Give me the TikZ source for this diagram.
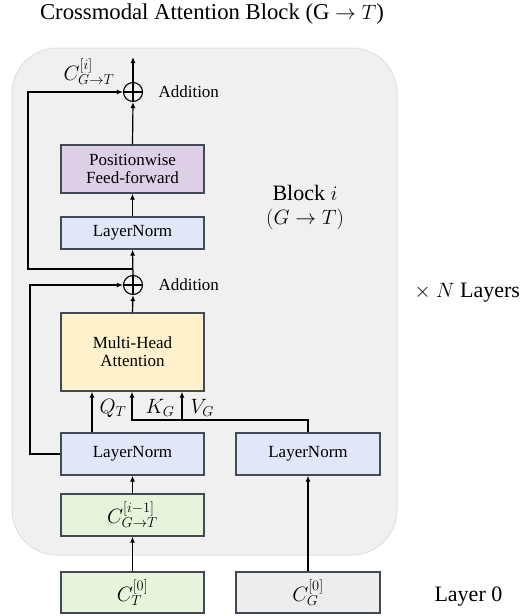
\documentclass[tikz,border=0pt]{standalone}
\usepackage{fontspec}
\setmainfont{Liberation Serif}
\usetikzlibrary{arrows.meta,calc}
\definecolor{bgfill}{HTML}{F0F0F0}
\definecolor{bgline}{HTML}{E2E2E2}
\definecolor{bord}{HTML}{434A56}
\definecolor{pffc}{HTML}{DDD0E7}
\definecolor{lnc}{HTML}{E1E6F8}
\definecolor{mhac}{HTML}{FFF1CC}
\definecolor{grc}{HTML}{E8F3DC}
\definecolor{gyc}{HTML}{EDEDED}
\tikzset{
  box/.style={draw=bord, line width=1.3pt, minimum width=143pt, align=center, inner sep=0pt,
    font=\fontsize{17}{20}\selectfont},
  addc/.style={draw=black, line width=1.1pt, circle, minimum size=19pt, inner sep=0pt},
  conn/.style={draw=black, line width=1.2pt},
  arr/.style={conn, -{Latex[length=6pt,width=5pt]}},
  side/.style={font=\fontsize{22}{26}\selectfont},
  lbl/.style={font=\fontsize{17}{20}\selectfont},
  mlbl/.style={font=\fontsize{20}{22}\selectfont},
  bigm/.style={font=\fontsize{22}{24}\selectfont},
}
\begin{document}
\begin{tikzpicture}[x=1pt,y=-1pt]
\useasboundingbox (0,0) rectangle (524,616);
\fill[bgfill, draw=bgline, line width=1pt, rounded corners=45pt] (12,48) rectangle (397,555);
\node[font=\fontsize{22.7}{26}\selectfont] (title) at (212,14) {Crossmodal Attention Block (G $\rightarrow T$)};
% boxes
\node[box, fill=pffc, minimum height=48pt] (pff) at (132.5,169) {Positionwise\\[-2pt]Feed-forward};
\node[box, fill=lnc, minimum height=32pt] (ln1) at (132.5,233) {LayerNorm};
\node[box, fill=mhac, minimum height=78pt] (mha) at (132.5,352) {Multi-Head\\[-2pt]Attention};
\node[box, fill=lnc, minimum height=42pt] (lnl) at (132.5,454) {LayerNorm};
\node[box, fill=lnc, minimum height=42pt, minimum width=144pt] (lnr) at (308,454) {LayerNorm};
\node[box, fill=grc, minimum height=42pt, bigm] (cprev) at (132.5,515) {$C^{[i-1]}_{G\rightarrow T}$};
\node[box, fill=grc, minimum height=41pt, bigm] (ct0) at (132.5,592.5) {$C^{[0]}_{T}$};
\node[box, fill=gyc, minimum height=41pt, minimum width=144pt, bigm] (cg0) at (308,592.5) {$C^{[0]}_{G}$};
% addition circles
\node[addc] (add1) at (133,92) {};
\draw[line width=1.1pt] (add1.north) -- (add1.south) (add1.west) -- (add1.east);
\node[addc] (add2) at (133,285) {};
\draw[line width=1.1pt] (add2.north) -- (add2.south) (add2.west) -- (add2.east);
\coordinate (out) at (133,57);
\coordinate (br) at (133,269);
% connectors
\draw[arr] (ct0.north) -- (cprev.south);
\draw[arr] (cprev.north) -- (lnl.south);
\draw[arr] (cg0.north) -- (lnr.south);
\draw[arr] (lnl.north -| 92,0) -- (mha.south -| 92,0);
\draw[conn] (lnr.north) |- (182,420);
\draw[arr] (182,420) -| (mha.south -| 132,0);
\draw[arr] (182,420) -- (mha.south -| 182,0);
\draw[arr] (mha.north) -- (add2.south);
\draw[arr] (lnl.west) -| (30,285) -- (add2.west);
\draw[arr] (add2.north) -- (ln1.south);
\draw[arr] (br) -| (28,92) -- (add1.west);
\draw[arr] (ln1.north) -- (pff.south);
\draw[arr] (pff.north) -- (add1.south);
\draw[arr] (add1.north) -- (out);
% labels
\node[mlbl, anchor=west] (qt) at (96,408) {$Q_T$};
\node[mlbl, anchor=west] (kg) at (142,408) {$K_G$};
\node[mlbl, anchor=west] (vg) at (187,408) {$V_G$};
\node[bigm] (ci) at (89,72) {$C^{[i]}_{G\rightarrow T}$};
\node[lbl, anchor=west] (a1) at (155,92) {Addition};
\node[lbl, anchor=west] (a2) at (155,285) {Addition};
\node[side] (blk) at (305,193) {Block $i$};
\node[side] (blk2) at (305,219) {$(G\rightarrow T)$};
\node[side, anchor=west] (nl) at (411,293) {$\times$ $N$ Layers};
\node[side, anchor=west] (l0) at (431,597) {Layer 0};
\end{tikzpicture}
\end{document}
